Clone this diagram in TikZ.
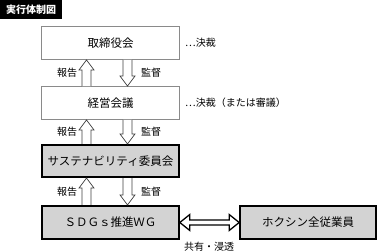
\documentclass[tikz,border=0pt]{standalone}
\usepackage{fontspec}
\newfontfamily\jp{Noto Sans CJK JP}
\usetikzlibrary{calc}
\definecolor{boxgray}{HTML}{D3D3D3}
\definecolor{edgegray}{HTML}{8A8A8A}
\tikzset{
  plainbox/.style={draw=edgegray, line width=0.9pt, fill=white, minimum width=138pt, minimum height=33pt, inner sep=0pt, font=\jp\fontsize{11.5}{12}\selectfont},
  graybox/.style={draw=black, line width=1.6pt, fill=boxgray, minimum width=137pt, minimum height=32.5pt, inner sep=0pt, font=\jp\fontsize{11.5}{12}\selectfont},
  arr/.style={draw=black!75, line width=0.7pt, fill=white, line join=miter},
  dblarr/.style={draw=black, line width=1.3pt, fill=white, line join=miter},
  lbl/.style={font=\jp\fontsize{10}{11}\selectfont, inner sep=0pt},
}
\newcommand\hollowup[3]{\draw[arr] let \p1=(#2.south), \p2=(#3.north) in
 (#1pt-4.5pt,\y2) -- (#1pt-4.5pt,\y1-10pt) -- (#1pt-7.5pt,\y1-10pt) -- (#1pt,\y1) -- (#1pt+7.5pt,\y1-10pt) -- (#1pt+4.5pt,\y1-10pt) -- (#1pt+4.5pt,\y2);}
\newcommand\hollowdown[3]{\draw[arr] let \p1=(#2.south), \p2=(#3.north) in
 (#1pt-4.5pt,\y1) -- (#1pt-4.5pt,\y2+10pt) -- (#1pt-7.5pt,\y2+10pt) -- (#1pt,\y2) -- (#1pt+7.5pt,\y2+10pt) -- (#1pt+4.5pt,\y2+10pt) -- (#1pt+4.5pt,\y1);}
\begin{document}
\begin{tikzpicture}[x=1pt,y=1pt]
\useasboundingbox (0,0) rectangle (378,252);
% title
\node[fill=black, text=white, minimum width=62pt, minimum height=19pt, inner sep=0pt, anchor=north west, font=\jp\bfseries\fontsize{10}{11}\selectfont] (title) at (0,252) {実行体制図};
% boxes
\node[plainbox] (b1) at (110.5,209) {取締役会};
\node[plainbox] (b2) at (110.5,149) {経営会議};
\node[graybox] (b3) at (110.5,91) {サステナビリティ委員会};
\node[graybox, minimum height=33.5pt] (b4) at (110.5,29.5) {ＳＤＧｓ推進ＷＧ};
\node[graybox, minimum height=33.5pt, minimum width=136pt] (b5) at (308,29.5) {ホクシン全従業員};
% side notes
\node[lbl, anchor=west] (n1) at (185,209) {…決裁};
\node[lbl, anchor=west] (n2) at (185,149) {…決裁（または審議）};
% arrows
\hollowup{86.5}{b1}{b2}
\hollowdown{127.5}{b1}{b2}
\hollowup{86.5}{b2}{b3}
\hollowdown{127.5}{b2}{b3}
\hollowup{86.5}{b3}{b4}
\hollowdown{127.5}{b3}{b4}
\node[lbl] (r1) at (67,179) {報告};
\node[lbl] (s1) at (151,179) {監督};
\node[lbl] (r2) at (67,120) {報告};
\node[lbl] (s2) at (151,120) {監督};
\node[lbl] (r3) at (67,60) {報告};
\node[lbl] (s3) at (151,60) {監督};
% double arrow
\draw[dblarr] let \p1=(b4.east), \p2=(b5.west) in
 (\x1,\y1) -- (\x1+10pt,\y1+8pt) -- (\x1+10pt,\y1+2.5pt) -- (\x2-10pt,\y1+2.5pt) -- (\x2-10pt,\y1+8pt) -- (\x2,\y1)
 -- (\x2-10pt,\y1-8pt) -- (\x2-10pt,\y1-2.5pt) -- (\x1+10pt,\y1-2.5pt) -- (\x1+10pt,\y1-8pt) -- cycle;
\node[lbl] (share) at (209,5.5) {共有・浸透};
\end{tikzpicture}
\end{document}
